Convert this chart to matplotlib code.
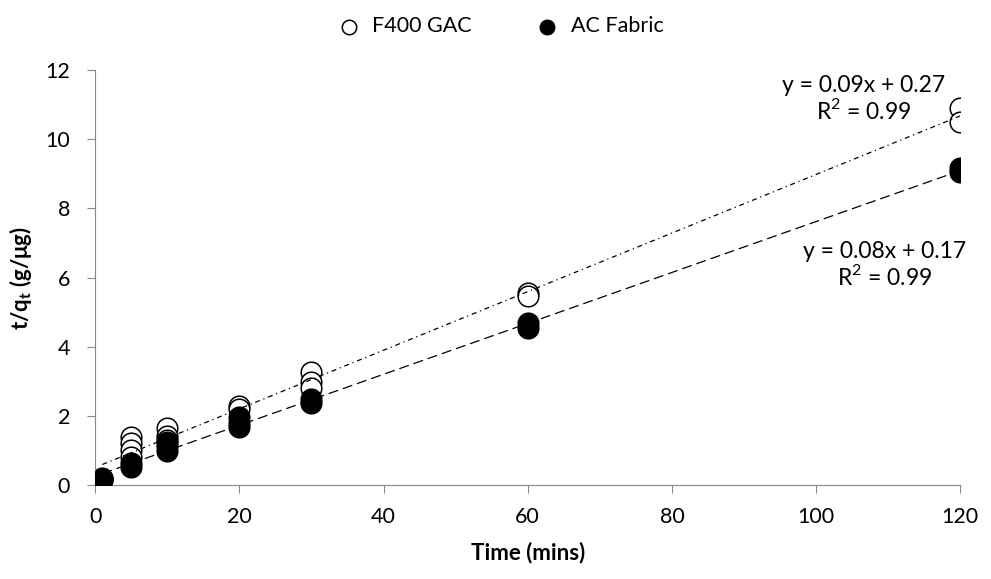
import numpy as np
import matplotlib
matplotlib.use("Agg")
import matplotlib.pyplot as plt

plt.rcParams['font.family'] = ['Lato', 'DejaVu Sans']
plt.rcParams['mathtext.fontset'] = 'custom'
plt.rcParams['mathtext.rm'] = 'Lato'
plt.rcParams['mathtext.bf'] = 'Lato:bold'

# time (mins) and t/qt values
gac_time = [1, 1, 5, 5, 5, 5, 10, 10, 10, 20, 20, 30, 30, 30, 60, 60, 120, 120]
gac_tq = [0.18, 0.2, 1.39, 1.21, 1.01, 0.81, 1.65, 1.42, 1.3, 2.3, 2.2, 3.27, 2.98, 2.8, 5.55, 5.48, 10.9, 10.5]

fab_time = [1, 1, 5, 5, 10, 10, 10, 20, 20, 20, 30, 30, 60, 60, 120, 120]
fab_tq = [0.15, 0.17, 0.64, 0.52, 1.25, 1.13, 1.0, 1.97, 1.8, 1.68, 2.5, 2.37, 4.68, 4.55, 9.16, 9.04]

gac_eq = 'y = 0.09x + 0.27\nR$^2$ = 0.99'
fab_eq = 'y = 0.08x + 0.17\nR$^2$ = 0.99'

fig = plt.figure(figsize=(9.91, 5.79), dpi=100)
ax = fig.add_axes([0.096, 0.162, 0.873, 0.717])

# linear trend lines
xs = np.array([1, 120])
p1 = np.polyfit(gac_time, gac_tq, 1)
p2 = np.polyfit(fab_time, fab_tq, 1)
ax.plot(xs, np.polyval(p1, xs), color='black', lw=0.9, linestyle=(0, (4, 3, 1, 3)), zorder=3)
ax.plot(xs, np.polyval(p2, xs), color='black', lw=0.9, linestyle=(0, (8, 4)), zorder=3)

ax.scatter(gac_time, gac_tq, s=220, facecolors='white', edgecolors='black', linewidths=1.1,
           label='F400 GAC', zorder=2)
ax.scatter(fab_time, fab_tq, s=220, facecolors='black', edgecolors='black', linewidths=1.1,
           label='AC Fabric', zorder=4)

ax.text(0.888, 0.931, gac_eq, transform=ax.transAxes, ha='center', va='center',
        fontsize=16.5, linespacing=1.1, multialignment='center')
ax.text(0.913, 0.530, fab_eq, transform=ax.transAxes, ha='center', va='center',
        fontsize=16.5, linespacing=1.1, multialignment='center')

ax.set_xlim(0, 120)
ax.set_ylim(0, 12)
ax.set_xticks(np.arange(0, 121, 20))
ax.set_yticks(np.arange(0, 13, 2))
ax.tick_params(labelsize=15.5, color='#888888', length=6, direction='out')
ax.tick_params(axis='y', pad=12)
ax.tick_params(axis='x', pad=10)
for s in ['top', 'right']:
    ax.spines[s].set_visible(False)
for s in ['left', 'bottom']:
    ax.spines[s].set_color('#888888')

ax.set_xlabel('Time (mins)', fontsize=16, fontweight='bold', labelpad=10)
ax.set_ylabel(r't/q$_\mathbf{t}$ (g/μg)', fontsize=16, fontweight='bold', labelpad=8)

fig.legend(loc='upper center', bbox_to_anchor=(0.5, 1.005), ncol=2, frameon=False,
           fontsize=15.5, markerscale=0.7, handletextpad=0.1, columnspacing=2.5)

fig.savefig('out.png', dpi=100)
